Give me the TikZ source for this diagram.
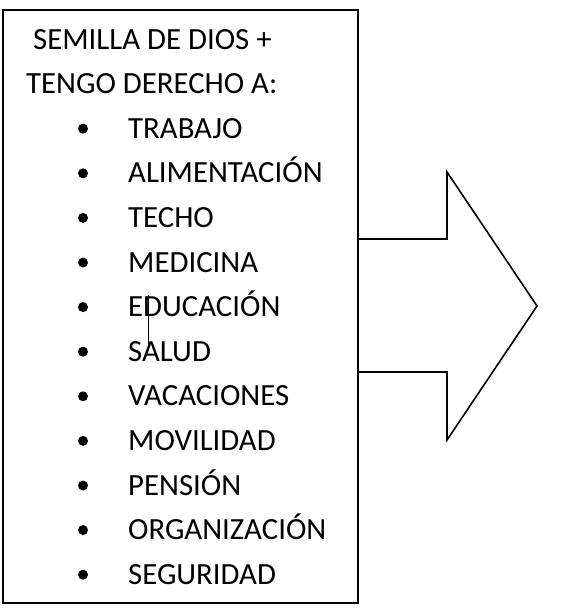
\documentclass[tikz,border=0pt]{standalone}
\usepackage{fontspec}
\setmainfont{Carlito}
\begin{document}
\begin{tikzpicture}[x=1pt, y=-1pt, every node/.style={anchor=base west, inner sep=0pt, font=\fontsize{30.8}{36}\selectfont}]
\useasboundingbox (0,0) rectangle (564,608);
\draw[line width=1.8pt] (3,10) rectangle (358,603);
\node (sem) at (33,49){SEMILLA DE DIOS +};
\node (ten) at (26,93.6){TENGO DERECHO A:};
\node[circle, fill, minimum size=10pt, anchor=center] (bul1) at (83,128.7){};
\node (itm1) at (128,138.2){TRABAJO};
\node[circle, fill, minimum size=10pt, anchor=center] (bul2) at (83,173.3){};
\node (itm2) at (128,182.8){ALIMENTACIÓN};
\node[circle, fill, minimum size=10pt, anchor=center] (bul3) at (83,217.9){};
\node (itm3) at (128,227.4){TECHO};
\node[circle, fill, minimum size=10pt, anchor=center] (bul4) at (83,262.5){};
\node (itm4) at (128,272){MEDICINA};
\node[circle, fill, minimum size=10pt, anchor=center] (bul5) at (83,307.1){};
\node (itm5) at (128,316.6){EDUCACIÓN};
\node[circle, fill, minimum size=10pt, anchor=center] (bul6) at (83,351.7){};
\node (itm6) at (128,361.2){SALUD};
\node[circle, fill, minimum size=10pt, anchor=center] (bul7) at (83,396.3){};
\node (itm7) at (128,405.8){VACACIONES};
\node[circle, fill, minimum size=10pt, anchor=center] (bul8) at (83,440.9){};
\node (itm8) at (128,450.4){MOVILIDAD};
\node[circle, fill, minimum size=10pt, anchor=center] (bul9) at (83,485.5){};
\node (itm9) at (128,495){PENSIÓN};
\node[circle, fill, minimum size=10pt, anchor=center] (bul10) at (83,530.1){};
\node (itm10) at (128,539.6){ORGANIZACIÓN};
\node[circle, fill, minimum size=10pt, anchor=center] (bul11) at (83,574.7){};
\node (itm11) at (128,584.2){SEGURIDAD};
\draw[line width=0.7pt] (148,295) -- (148,345);
\draw[line width=1.6pt, line join=miter] (358,239) -- (447,239) -- (447,172) -- (537,306) -- (447,440) -- (447,372) -- (358,372);
\end{tikzpicture}
\end{document}
